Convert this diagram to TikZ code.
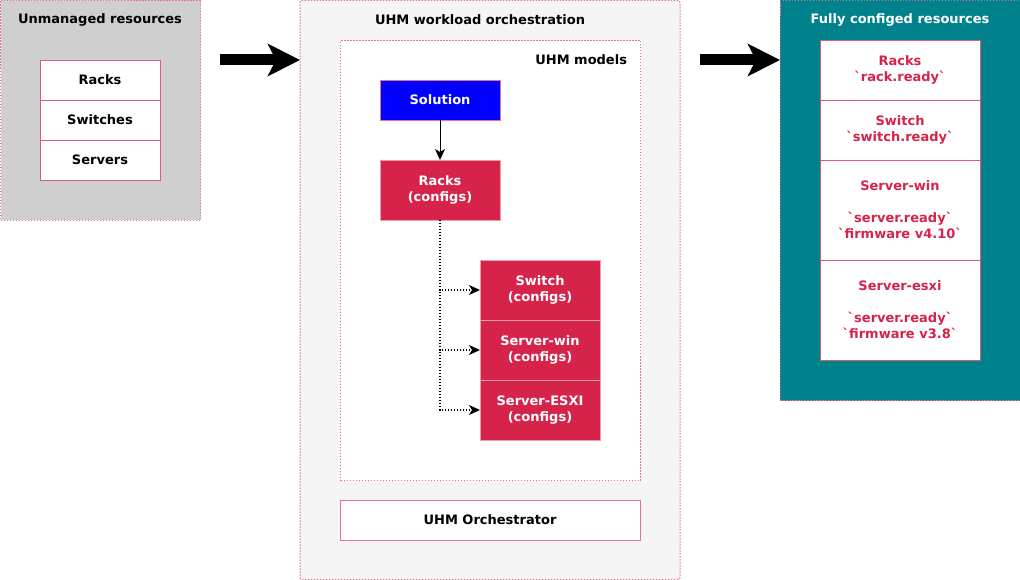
\documentclass[tikz,border=0pt]{standalone}
\usepackage{fontspec}
\newfontfamily\dvs{DejaVu Sans}
\usetikzlibrary{arrows.meta}
\definecolor{pinkline}{HTML}{E8728C}
\definecolor{cellline}{HTML}{DC5A76}
\definecolor{crimson}{HTML}{D6234A}
\definecolor{lgray}{HTML}{CFCFCF}
\definecolor{paleg}{HTML}{F5F5F5}
\definecolor{teal2}{HTML}{00828C}
\definecolor{solblue}{HTML}{0000FF}
\tikzset{
  every node/.style={font=\dvs\bfseries\fontsize{13}{16}\selectfont, inner sep=0pt, outer sep=0pt, align=center},
  container/.style={draw=pinkline, line width=1pt, dash pattern=on 1.5pt off 1.5pt, anchor=north west},
  cell/.style={draw=cellline, line width=0.8pt, fill=white, minimum width=#1, anchor=north west},
  cell/.default=120pt,
  model/.style={draw=pinkline!70!white, line width=0.8pt, fill=crimson, text=white, minimum width=120pt, anchor=north west},
  bigarrow/.style={line width=11pt, -{Stealth[length=32pt,width=32pt,inset=8pt]}},
  dotconn/.style={line width=1.2pt, dash pattern=on 1.2pt off 1.8pt, -{Stealth[length=11pt,width=10pt,inset=3pt]}},
  solidconn/.style={line width=1pt, -{Stealth[length=11pt,width=10pt,inset=3pt]}},
  ctitle/.style={anchor=center},
}
\begin{document}
\begin{tikzpicture}[x=1pt,y=-1pt]
\useasboundingbox (0,0) rectangle (1020,580);
% containers
\node[container, fill=lgray, minimum width=200pt, minimum height=220pt] (unm) at (0.5,0.5) {};
\node[container, fill=paleg, minimum width=380pt, minimum height=579pt, rounded corners=2pt] (orch) at (300,0.5) {};
\node[container, fill=white, minimum width=300pt, minimum height=440pt] (models) at (340.5,40.5) {};
\node[container, fill=teal2, minimum width=240pt, minimum height=400pt] (full) at (780,0.5) {};
% titles
\node[ctitle] (t1) at (100,20) {Unmanaged resources};
\node[ctitle] (t2) at (480,20) {UHM workload orchestration};
\node[anchor=east] (t3) at (627,60) {UHM models};
\node[ctitle, text=white] (t4) at (900,20) {Fully configed resources};
% left stack
\node[cell, minimum height=40pt] (lr) at (40,60) {Racks};
\node[cell, minimum height=40pt] (ls) at (40,100) {Switches};
\node[cell, minimum height=40pt] (lv) at (40,140) {Servers};
% models
\node[draw=pinkline, line width=0.8pt, fill=solblue, text=white, minimum width=120pt, minimum height=40pt, anchor=north west] (sol) at (380,80) {Solution};
\node[model, minimum height=60pt] (racks) at (380,160) {Racks\\(configs)};
\node[model, minimum height=60pt] (sw) at (480,260) {Switch\\(configs)};
\node[model, minimum height=60pt] (sv) at (480,320) {Server-win\\(configs)};
\node[model, minimum height=60pt] (se) at (480,380) {Server-ESXI\\(configs)};
\node[cell=300pt, draw=pinkline, minimum height=40pt] (orc) at (340,500) {UHM Orchestrator};
% right stack
\begin{scope}[every node/.append style={text=crimson}]
\node[cell=160pt, minimum height=60pt] (rr) at (820,40) {Racks\\`rack.ready`};
\node[cell=160pt, minimum height=60pt] (rs) at (820,100) {Switch\\`switch.ready`};
\node[cell=160pt, minimum height=100pt] (rw) at (820,160) {Server-win\\[16pt]`server.ready`\\`firmware v4.10`};
\node[cell=160pt, minimum height=100pt] (rx) at (820,260) {Server-esxi\\[16pt]`server.ready`\\`firmware v3.8`};
\end{scope}
% connectors
\draw[solidconn] (sol.south) -- (racks.north);
\draw[dotconn] (racks.south) |- (sw.west);
\draw[dotconn] (racks.south) |- (sv.west);
\draw[dotconn] (racks.south) |- (se.west);
% big arrows
\coordinate (a1s) at (220,60);
\coordinate (a2s) at (700,60);
\draw[bigarrow] (a1s) -- (orch.west |- a1s);
\draw[bigarrow] (a2s) -- (full.west |- a2s);
\end{tikzpicture}
\end{document}
